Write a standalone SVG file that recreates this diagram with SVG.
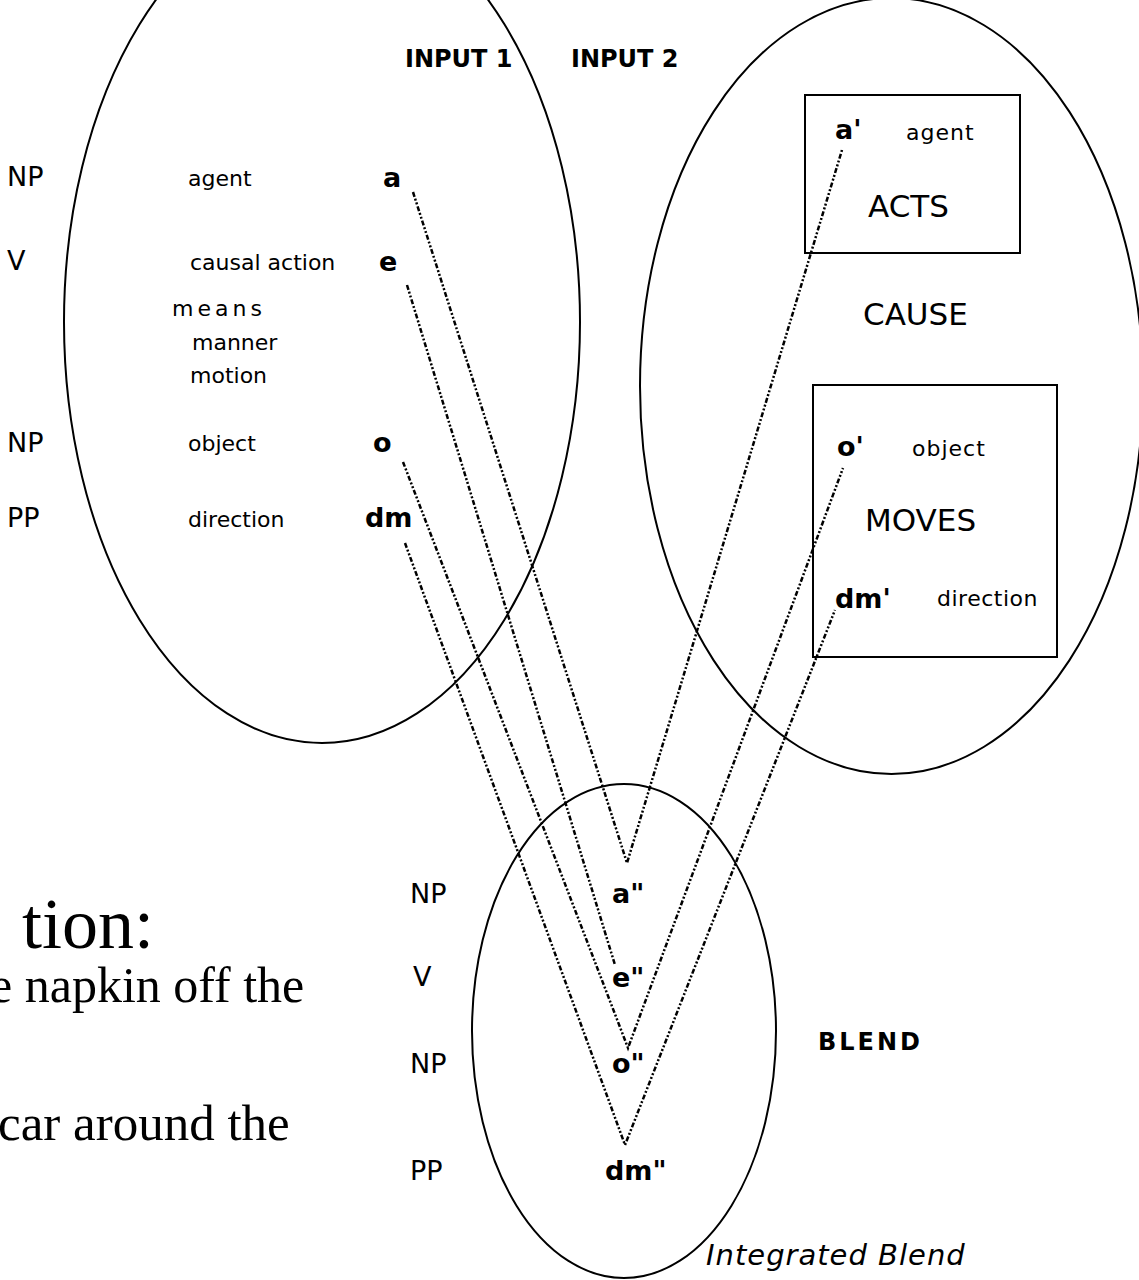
<svg xmlns="http://www.w3.org/2000/svg" width="1139" height="1280" viewBox="0 0 1139 1280">
  <style>
    .space { fill: none; stroke: #000; stroke-width: 2; }
    .frame { fill: none; stroke: #000; stroke-width: 2; }
    .map { fill: none; stroke: #000; stroke-width: 2.5; stroke-dasharray: 5 2 2 2 2 2; }
    text { font-family: "DejaVu Sans", "Liberation Sans", sans-serif; fill: #000; }
    .head { font-size: 24px; font-weight: bold; }
    .cat { font-size: 27px; }
    .role { font-size: 22px; }
    .var { font-size: 27px; font-weight: bold; }
    .big { font-size: 31px; }
    .serif { font-family: "Liberation Serif", "Times New Roman", serif; }
  </style>
  <rect width="1139" height="1280" fill="#fff"/>

  <!-- Times caption, partly cut off at the left edge -->
  <g id="caption">
    <text class="serif" x="22" y="948" font-size="72">tion:</text>
    <text class="serif" x="-10" y="1002" font-size="50">e napkin off the</text>
    <text class="serif" x="-2" y="1140" font-size="51">car around the</text>
  </g>

  <!-- Input space 1: syntactic form -->
  <g id="input1">
    <ellipse class="space" cx="322" cy="322" rx="258" ry="421"/>
    <text class="head" x="405" y="67">INPUT 1</text>
    <text class="cat" x="7" y="186">NP</text>
    <text class="cat" x="7" y="270">V</text>
    <text class="cat" x="7" y="452">NP</text>
    <text class="cat" x="7" y="527">PP</text>
    <text class="role" x="188" y="186">agent</text>
    <text class="role" x="190" y="270">causal action</text>
    <text class="role" x="172" y="316" letter-spacing="4">means</text>
    <text class="role" x="192" y="350">manner</text>
    <text class="role" x="190" y="383">motion</text>
    <text class="role" x="188" y="451">object</text>
    <text class="role" x="188" y="527">direction</text>
    <text class="var" x="383" y="187">a</text>
    <text class="var" x="379" y="271">e</text>
    <text class="var" x="373" y="452">o</text>
    <text class="var" x="365" y="527">dm</text>
  </g>

  <!-- Input space 2: caused-motion event -->
  <g id="input2">
    <ellipse class="space" cx="891.5" cy="386" rx="251.5" ry="388"/>
    <text class="head" x="571" y="67">INPUT 2</text>
    <rect class="frame" x="805" y="95" width="215" height="158"/>
    <text class="var" x="835" y="139">a'</text>
    <text class="role" x="906" y="140" letter-spacing="1">agent</text>
    <text class="big" x="868" y="217">ACTS</text>
    <text class="big" x="863" y="325">CAUSE</text>
    <rect class="frame" x="813" y="385" width="244" height="272"/>
    <text class="var" x="837" y="456">o'</text>
    <text class="role" x="912" y="456" letter-spacing="1">object</text>
    <text class="big" x="865" y="531" font-size="30">MOVES</text>
    <text class="var" x="835" y="608">dm'</text>
    <text class="role" x="937" y="606" letter-spacing="0.5">direction</text>
  </g>

  <!-- Blended space -->
  <g id="blend">
    <ellipse class="space" cx="624" cy="1031" rx="152" ry="247"/>
    <text class="cat" x="410" y="903">NP</text>
    <text class="cat" x="413" y="986">V</text>
    <text class="cat" x="410" y="1073">NP</text>
    <text class="cat" x="410" y="1180">PP</text>
    <text class="var" x="612" y="903">a"</text>
    <text class="var" x="612" y="987">e"</text>
    <text class="var" x="612" y="1073">o"</text>
    <text class="var" x="605" y="1180">dm"</text>
    <text class="head" x="818" y="1050" font-size="27" letter-spacing="3">BLEND</text>
    <text x="706" y="1265" font-size="29" font-style="italic" letter-spacing="1">Integrated Blend</text>
  </g>

  <!-- Cross-space mappings into the blend -->
  <g id="connectors">
    <polyline class="map" points="413,192 627,863 842,150"/>
    <polyline class="map" points="407,285 615,965"/>
    <polyline class="map" points="403,462 628,1048 843,468"/>
    <polyline class="map" points="405,543 625,1145 835,610"/>
  </g>
</svg>
